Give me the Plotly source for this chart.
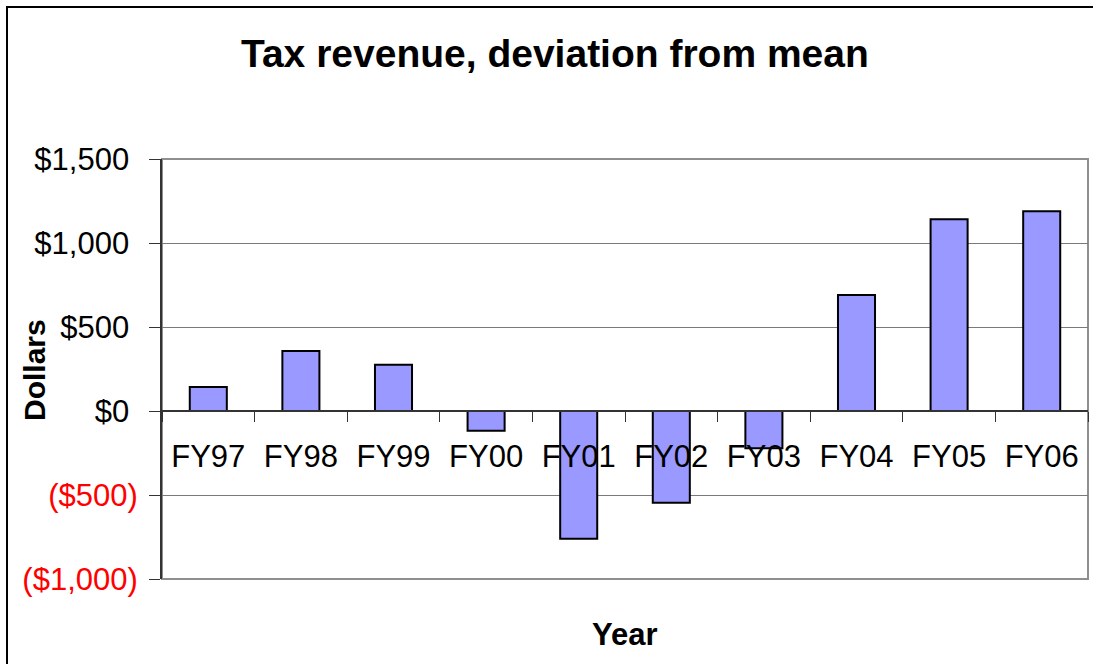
import plotly.graph_objects as go

years = ["FY97", "FY98", "FY99", "FY00", "FY01", "FY02", "FY03", "FY04", "FY05", "FY06"]
deviation = [143, 357, 276, -117, -760, -546, -222, 690, 1141, 1189]
y_tick_vals = [1500, 1000, 500, 0, -500, -1000]
y_tick_text = ["$1,500", "$1,000", "$500", "$0", "($500)", "($1,000)"]

W, H = 1093, 664
L, R, T, B = 162, 1088, 159, 579
FONT = "Liberation Sans, Arial, sans-serif"
Y_MIN, Y_MAX = -1000, 1500


def px_x(px):
    return (px - L) / (R - L)


def px_y(py):
    return (B - py) / (B - T)


def fmt_tick(v, t):
    if v < 0:
        return '<span style="color:#FF0000">' + t + '</span>'
    return t + "\u00a0"


fig = go.Figure()
fig.add_trace(go.Bar(
    x=years,
    y=deviation,
    width=0.4,
    marker=dict(color="#9999FF", line=dict(color="#000000", width=2)),
    showlegend=False,
))

zero_pos = (0 - Y_MIN) / (Y_MAX - Y_MIN)

fig.update_layout(
    width=W, height=H,
    margin=dict(l=L, r=W - R, t=T, b=H - B, pad=0),
    paper_bgcolor="white",
    plot_bgcolor="white",
    font=dict(family=FONT, color="#000000"),
    bargap=0.6,
    xaxis=dict(
        type="category",
        anchor="free",
        position=zero_pos,
        showgrid=False,
        showline=True,
        linecolor="#333333",
        linewidth=1.5,
        ticks="outside",
        tickson="boundaries",
        ticklen=10,
        tickwidth=1,
        tickcolor="#333333",
        tickfont=dict(size=31, family=FONT, color="#000000"),
        ticklabelstandoff=18,
        range=[-0.5, 9.5],
        zeroline=False,
    ),
    yaxis=dict(
        range=[Y_MIN, Y_MAX],
        tickvals=y_tick_vals,
        ticktext=[fmt_tick(v, t) for v, t in zip(y_tick_vals, y_tick_text)],
        tickfont=dict(size=31, family=FONT, color="#000000"),
        ticklabelstandoff=5,
        showgrid=True,
        gridcolor="#7a7a7a",
        gridwidth=1,
        showline=True,
        linecolor="#333333",
        linewidth=2,
        ticks="outside",
        ticklen=11,
        tickwidth=1,
        tickcolor="#333333",
        zeroline=False,
    ),
    shapes=[
        dict(type="rect", xref="paper", yref="paper",
             x0=px_x(L), x1=px_x(R), y0=px_y(B), y1=px_y(T),
             line=dict(color="#8f8f8f", width=2), layer="below"),
        dict(type="rect", xref="paper", yref="paper",
             x0=px_x(7), x1=px_x(1110), y0=px_y(680), y1=px_y(7),
             line=dict(color="#000000", width=2), layer="above"),
    ],
    annotations=[
        dict(text="<b>Tax revenue, deviation from mean</b>", xref="paper", yref="paper",
             x=px_x(555), y=px_y(53), xanchor="center", yanchor="middle",
             showarrow=False, font=dict(size=39, family=FONT, color="#000000")),
        dict(text="<b>Year</b>", xref="paper", yref="paper",
             x=px_x(625), y=px_y(634), xanchor="center", yanchor="middle",
             showarrow=False, font=dict(size=31, family=FONT, color="#000000")),
        dict(text="<b>Dollars</b>", xref="paper", yref="paper",
             x=px_x(34), y=px_y(370), xanchor="center", yanchor="middle",
             textangle=-90,
             showarrow=False, font=dict(size=30, family=FONT, color="#000000")),
    ],
)

fig.write_html("out.html")
